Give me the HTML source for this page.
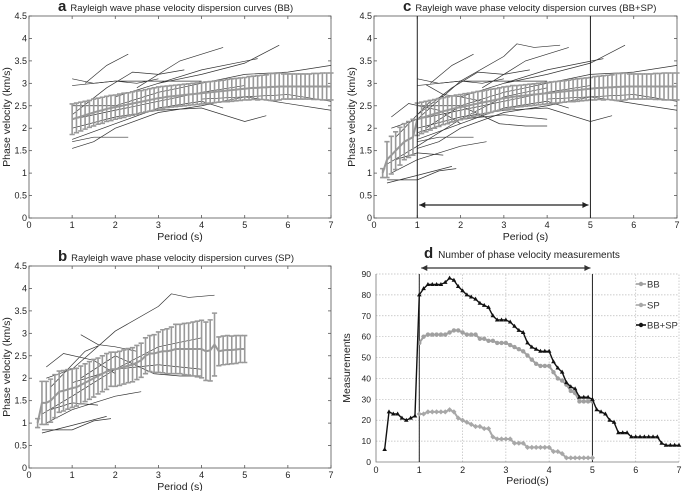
<!DOCTYPE html>
<html><head><meta charset="utf-8"><style>
body{margin:0;background:#fff;}
svg{display:block;font-family:"Liberation Sans",Arial,sans-serif;}
</style></head><body>
<svg id="fig" width="685" height="491" viewBox="0 0 685 491"></svg>
<script>
// ---------- DATA ----------
const periodsA = []; for (let i = 0; i <= 60; i++) periodsA.push(1 + i * 0.1);
const meanA = [2.20,2.23,2.26,2.29,2.32,2.35,2.38,2.40,2.43,2.45,
 2.47,2.49,2.51,2.53,2.55,2.57,2.59,2.61,2.63,2.65,
 2.67,2.68,2.70,2.71,2.72,2.73,2.74,2.75,2.76,2.77,
 2.78,2.79,2.80,2.81,2.82,2.83,2.84,2.85,2.86,2.87,
 2.88,2.89,2.90,2.90,2.91,2.91,2.92,2.92,2.93,2.93,
 2.93,2.93,2.93,2.93,2.93,2.93,2.93,2.93,2.93,2.93,2.93];
const stdA = [0.34,0.33,0.32,0.31,0.30,0.30,0.29,0.29,0.28,0.28,
 0.27,0.27,0.27,0.26,0.26,0.26,0.25,0.25,0.25,0.25,
 0.25,0.25,0.24,0.24,0.24,0.24,0.24,0.24,0.24,0.24,
 0.24,0.24,0.24,0.24,0.24,0.24,0.25,0.25,0.25,0.25,
 0.25,0.26,0.26,0.27,0.27,0.28,0.30,0.30,0.30,0.28,
 0.28,0.28,0.28,0.28,0.28,0.28,0.29,0.29,0.30,0.30,0.30];
const periodsB = []; for (let i = 0; i <= 48; i++) periodsB.push(0.2 + i * 0.1);
const meanB = [1.00,1.45,1.45,1.50,1.60,1.70,1.72,1.75,1.78,1.80,
 1.85,1.90,1.95,2.00,2.05,2.10,2.15,2.20,2.20,2.22,
 2.25,2.28,2.30,2.35,2.40,2.50,2.55,2.55,2.58,2.60,
 2.60,2.62,2.65,2.65,2.65,2.65,2.65,2.65,2.65,2.60,
 2.62,2.75,2.60,2.62,2.63,2.63,2.64,2.65,2.65];
const stdB = [0.10,0.48,0.48,0.48,0.48,0.46,0.45,0.44,0.43,0.42,
 0.42,0.42,0.42,0.42,0.40,0.40,0.40,0.38,0.38,0.38,
 0.38,0.38,0.38,0.38,0.38,0.40,0.40,0.42,0.45,0.48,
 0.50,0.52,0.55,0.55,0.57,0.58,0.60,0.62,0.64,0.65,
 0.68,0.70,0.32,0.32,0.32,0.31,0.31,0.30,0.30];
const periodsC = []; for (let i = 0; i <= 68; i++) periodsC.push(0.2 + i * 0.1);
const meanC = [1.00,1.30,1.40,1.50,1.60,1.70,1.75,1.80,
 2.20,2.23,2.26,2.29,2.32,2.35,2.38,2.40,2.43,2.45,
 2.47,2.49,2.51,2.53,2.55,2.57,2.59,2.61,2.63,2.65,
 2.67,2.68,2.70,2.71,2.72,2.73,2.74,2.75,2.76,2.77,
 2.78,2.79,2.80,2.81,2.82,2.83,2.84,2.85,2.86,2.87,
 2.88,2.89,2.90,2.90,2.91,2.91,2.92,2.92,2.93,2.93,
 2.93,2.93,2.93,2.93,2.93,2.93,2.93,2.93,2.93,2.93,2.93];
const stdC = [0.10,0.40,0.42,0.42,0.42,0.40,0.40,0.40,
 0.36,0.35,0.34,0.33,0.32,0.31,0.30,0.30,0.29,0.29,
 0.28,0.28,0.27,0.27,0.27,0.26,0.26,0.26,0.25,0.25,
 0.25,0.25,0.25,0.24,0.24,0.24,0.24,0.24,0.24,0.24,
 0.24,0.24,0.24,0.24,0.24,0.24,0.25,0.25,0.25,0.25,
 0.25,0.26,0.26,0.27,0.27,0.28,0.30,0.30,0.30,0.28,
 0.28,0.28,0.28,0.28,0.28,0.29,0.29,0.30,0.30,0.30,0.30];
const curvesBB = [
 [[1,3.1],[1.5,3.0],[2,3.05],[2.5,3.0],[3,3.1]],
 [[1.3,3.0],[1.8,3.4],[2.3,3.65]],
 [[2.5,2.9],[3.5,3.5],[4.5,3.8]],
 [[2,2.7],[3,3.0],[4,3.2],[5,3.45],[5.8,3.85]],
 [[3,3.0],[4,3.3],[5.3,3.55]],
 [[1,2.0],[2,2.25],[3,2.4],[4,2.45],[5,2.15],[5.5,2.28]],
 [[1,1.55],[1.5,1.7],[2,2.0],[3,2.35],[4,2.5],[5,2.7],[6,2.75],[7,2.6]],
 [[4,2.65],[5,2.7],[6,2.55],[7,2.4]],
 [[1,1.7],[1.5,1.8],[2.3,1.8]],
 [[1,2.5],[2,2.5],[3,2.8],[4,3.0],[5,3.2],[6,3.25],[7,3.4]],
 [[1,2.2],[2,2.4],[3,2.6],[4,2.8],[5,2.95]],
 [[1,2.3],[1.8,2.9],[2.4,3.25],[3,3.2],[3.6,3.3]],
 [[1,2.95],[2,3.05],[3,3.05],[4,3.05]],
 [[1,1.75],[2,2.1],[3,2.45],[4,2.6],[4.5,2.45]]
];
const curvesSP = [
 [[0.4,2.0],[1,2.2],[2,3.05],[3,3.6],[3.3,3.88],[3.7,3.8],[4.3,3.85]],
 [[0.3,1.2],[1,1.6],[2,2.2],[3,2.7],[4,2.9]],
 [[0.4,2.25],[0.8,2.55],[1.5,2.4],[2,2.1]],
 [[1.2,2.97],[1.6,2.75],[2,2.7],[2.5,2.6]],
 [[0.3,0.85],[1,0.85],[1.5,1.05],[1.9,1.1]],
 [[0.3,0.78],[1,0.95],[1.8,1.15]],
 [[0.5,1.3],[1,1.45],[1.6,1.4]],
 [[0.4,1.0],[1,1.3],[2,1.6],[2.6,1.7]],
 [[1.2,2.0],[2,2.5],[2.9,2.1],[3.5,2.05],[4,2.05]],
 [[1,1.9],[2,2.2],[3,2.3],[4,2.2]],
 [[0.5,1.8],[1.3,2.6],[1.6,2.72]]
];
const countX = []; for (let i = 0; i <= 68; i++) countX.push(0.2 + i * 0.1);
const countBBSP = [6,24,23,23,21,20,21,22,80,83,85,85,85,85,86,88,87,84,82,80,79,78,76,75,74,70,68,68,68,67,65,63,62,57,55,54,53,53,53,48,45,43,38,36,35,31,31,31,30,25,24,23,20,19,14,14,14,12,12,12,12,12,12,12,9,8,8,8,8];
const bbX = []; for (let i = 0; i <= 40; i++) bbX.push(1 + i * 0.1);
const countBB = [57,60,61,61,61,61,61,62,63,63,62,61,61,61,59,59,58,58,57,57,57,56,55,54,53,51,49,47,46,46,46,43,40,39,37,34,33,29,29,29,29];
const countSP = [23,23,24,24,24,24,24,25,24,21,20,19,18,17,17,16,16,12,11,11,11,11,9,9,9,7,7,7,7,7,7,5,5,4,2,2,2,2,2,2,2];
const xTicks = [0,1,2,3,4,5,6,7];
const vTicks = [0,0.5,1,1.5,2,2.5,3,3.5,4,4.5];
const vTickLabels = ['0','0.5','1','1.5','2','2.5','3','3.5','4','4.5'];
const mTicks = [0,10,20,30,40,50,60,70,80,90];

// ---------- DRAW ----------
const NS = 'http://www.w3.org/2000/svg';
const svg = document.getElementById('fig');
function el(tag, attrs, parent, text) {
  const e = document.createElementNS(NS, tag);
  for (const k in attrs) e.setAttribute(k, attrs[k]);
  if (text !== undefined) e.textContent = text;
  (parent || svg).appendChild(e);
  return e;
}

function velocityPanel(opt) {
  const g = el('g', {});
  
  
  const sx = v => opt.x0 + (opt.x1 - opt.x0) * v / 7;
  const sy = v => opt.y0 - (opt.y0 - opt.y1) * v / 4.5;
  const frame = el('rect', {x: opt.x0, y: opt.y1, width: opt.x1 - opt.x0, height: opt.y0 - opt.y1, fill: '#fff', stroke: '#555', 'stroke-width': 0.8}, g);
  
  
  xTicks.forEach(t => {
    el('line', {x1: sx(t), x2: sx(t), y1: opt.y0, y2: opt.y0 - 3, stroke: '#555', 'stroke-width': 0.8}, g);
    el('line', {x1: sx(t), x2: sx(t), y1: opt.y1, y2: opt.y1 + 3, stroke: '#555', 'stroke-width': 0.8}, g);
    const tl = el('text', {x: sx(t), y: opt.y0 + 10, 'font-size': 9, 'text-anchor': 'middle', fill: '#222'}, g, String(t));
    
    
  });
  vTicks.forEach((t, i) => {
    el('line', {x1: opt.x0, x2: opt.x0 + 3, y1: sy(t), y2: sy(t), stroke: '#555', 'stroke-width': 0.8}, g);
    el('line', {x1: opt.x1, x2: opt.x1 - 3, y1: sy(t), y2: sy(t), stroke: '#555', 'stroke-width': 0.8}, g);
    const tl = el('text', {x: opt.x0 - 2, y: sy(t) + 3, 'font-size': 9, 'text-anchor': 'end', fill: '#222'}, g, vTickLabels[i]);
    
    
  });
  opt.curves.forEach(c => {
    const p = el('polyline', {points: c.map(q => sx(q[0]) + ',' + sy(q[1])).join(' '), fill: 'none', stroke: '#333', 'stroke-width': 0.7}, g);
    
    
  });
  opt.periods.forEach((p, i) => {
    const m = opt.mean[i], s = opt.std[i];
    const x = sx(p), cw = 2.6;
    const bar = el('path', {d: `M${x},${sy(m - s)}V${sy(m + s)}M${x - cw},${sy(m + s)}H${x + cw}M${x - cw},${sy(m - s)}H${x + cw}`, stroke: '#999', 'stroke-width': 1.6, fill: 'none'}, g);
    
    
  });
  const ml = el('polyline', {points: opt.periods.map((p, i) => sx(p) + ',' + sy(opt.mean[i])).join(' '), fill: 'none', stroke: '#999', 'stroke-width': 2}, g);
  
  
  const xl = el('text', {x: (opt.x0 + opt.x1) / 2, y: opt.y0 + 22, 'font-size': 10.5, 'text-anchor': 'middle', fill: '#222'}, g, 'Period (s)');
  
  
  const yl = el('text', {x: 0, y: 0, 'font-size': 10.5, 'text-anchor': 'middle', fill: '#222', transform: `translate(${opt.x0 - 19},${(opt.y0 + opt.y1) / 2}) rotate(-90)`}, g, 'Phase velocity (km/s)');
  
  
  const tt = el('text', {x: opt.tx, y: opt.y1 - 5, 'font-size': 9.5, fill: '#222'}, g);
  
  
  el('tspan', {'font-size': 15, 'font-weight': 'bold'}, tt, opt.letter);
  el('tspan', {dx: 4}, tt, opt.title);
  return {g, sx, sy};
}

velocityPanel({name: 'panel-a', x0: 29, x1: 331, y0: 218, y1: 16, periods: periodsA, mean: meanA, std: stdA, curves: curvesBB, letter: 'a', title: 'Rayleigh wave phase velocity dispersion curves (BB)', tx: 58});
velocityPanel({name: 'panel-b', x0: 29, x1: 331, y0: 468, y1: 266, periods: periodsB, mean: meanB, std: stdB, curves: curvesSP, letter: 'b', title: 'Rayleigh wave phase velocity dispersion curves (SP)', tx: 58});
const pc = velocityPanel({name: 'panel-c', x0: 374, x1: 677, y0: 218, y1: 16, periods: periodsC, mean: meanC, std: stdC, curves: curvesBB.concat(curvesSP), letter: 'c', title: 'Rayleigh wave phase velocity dispersion curves (BB+SP)', tx: 403});
[1, 5].forEach(v => el('line', {x1: pc.sx(v), x2: pc.sx(v), y1: 16, y2: 218, stroke: '#222', 'stroke-width': 1}, pc.g));
el('line', {x1: pc.sx(1) + 2, x2: pc.sx(5) - 2, y1: 205, y2: 205, stroke: '#222', 'stroke-width': 1.3}, pc.g);
el('path', {d: `M${pc.sx(1) + 2},205l6,-3v6zM${pc.sx(5) - 2},205l-6,-3v6z`, fill: '#222'}, pc.g);

// ---------- PANEL D ----------
(function () {
  const g = el('g', {});
  
  
  const x0 = 376, x1 = 679, y0 = 462, y1 = 274;
  const sx = v => x0 + (x1 - x0) * v / 7;
  const sy = v => y0 - (y0 - y1) * v / 90;
  xTicks.forEach(t => {
    if (t > 0) el('line', {x1: sx(t), x2: sx(t), y1: y0, y2: y1, stroke: '#bbb', 'stroke-width': 0.7, 'stroke-dasharray': '1.5,1.5'}, g);
    const tl = el('text', {x: sx(t), y: y0 + 11, 'font-size': 9, 'text-anchor': 'middle', fill: '#222'}, g, String(t));
    
    
  });
  mTicks.forEach(t => {
    if (t > 0) el('line', {x1: x0, x2: x1, y1: sy(t), y2: sy(t), stroke: '#bbb', 'stroke-width': 0.7, 'stroke-dasharray': '1.5,1.5'}, g);
    const tl = el('text', {x: x0 - 5, y: sy(t) + 3, 'font-size': 8.5, 'text-anchor': 'end', fill: '#222'}, g, String(t));
    
    
  });
  el('path', {d: `M${x0},${y1}V${y0}H${x1}`, fill: 'none', stroke: '#777', 'stroke-width': 0.8}, g);
  [1, 5].forEach(v => el('line', {x1: sx(v), x2: sx(v), y1: y1, y2: y0, stroke: '#222', 'stroke-width': 1}, g));
  el('line', {x1: sx(1) + 2, x2: sx(5) - 2, y1: 268, y2: 268, stroke: '#333', 'stroke-width': 1.3}, g);
  el('path', {d: `M${sx(1) + 2},268l6,-3v6zM${sx(5) - 2},268l-6,-3v6z`, fill: '#333'}, g);
  function series(xs, ys, color, marker, name) {
    const s = el('g', {}, g);
    
    
    el('polyline', {points: xs.map((x, i) => sx(x) + ',' + sy(ys[i])).join(' '), fill: 'none', stroke: color, 'stroke-width': marker === 'tri' ? 1.4 : 2}, s);
    xs.forEach((x, i) => {
      if (marker === 'tri') el('path', {d: `M${sx(x)},${sy(ys[i]) - 2.5}l2.3,4h-4.6z`, fill: color}, s);
      else if (marker === 'dia') el('path', {d: `M${sx(x)},${sy(ys[i]) - 2.6}l2.6,2.6l-2.6,2.6l-2.6,-2.6z`, fill: color}, s);
      else el('circle', {cx: sx(x), cy: sy(ys[i]), r: 2.2, fill: color}, s);
    });
  }
  series(bbX, countBB, '#a0a0a0', 'circle', 'series-bb');
  series(bbX, countSP, '#a8a8a8', 'dia', 'series-sp');
  series(countX, countBBSP, '#111', 'tri', 'series-bb-sp');
  const lg = el('g', {}, g);
  
  
  [['BB', '#a0a0a0', 284], ['SP', '#a8a8a8', 305], ['BB+SP', '#111', 325]].forEach(e => {
    const le = el('g', {}, lg);
    
    
    el('line', {x1: 636, x2: 646, y1: e[2], y2: e[2], stroke: e[1], 'stroke-width': 1.6}, le);
    el('circle', {cx: 641, cy: e[2], r: 2.2, fill: e[1]}, le);
    el('text', {x: 647, y: e[2] + 3.5, 'font-size': 9.5, fill: '#333'}, le, e[0]);
  });
  const xl = el('text', {x: (x0 + x1) / 2, y: 484, 'font-size': 10.5, 'text-anchor': 'middle', fill: '#222'}, g, 'Period(s)');
  
  
  const yl = el('text', {x: 0, y: 0, 'font-size': 10.5, 'text-anchor': 'middle', fill: '#222', transform: `translate(350,${(y0 + y1) / 2}) rotate(-90)`}, g, 'Measurements');
  
  
  const tt = el('text', {x: 424, y: 258, 'font-size': 10, fill: '#222'}, g);
  
  
  el('tspan', {'font-size': 15, 'font-weight': 'bold'}, tt, 'd');
  el('tspan', {dx: 5}, tt, 'Number of phase velocity measurements');
})();
</script>
</body></html>
